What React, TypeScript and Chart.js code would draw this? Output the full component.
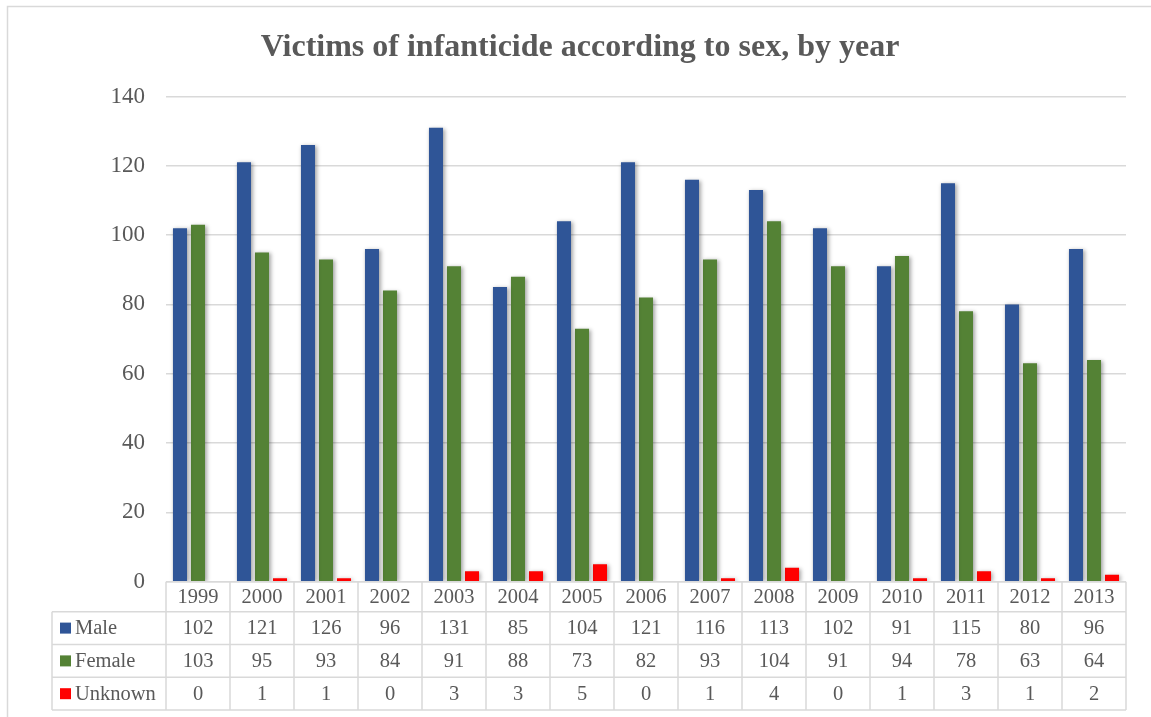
import React, { useEffect, useRef } from "react";
import { Chart, registerables } from "chart.js";

Chart.register(...registerables);

// Yearly victim counts by sex
const years = ["1999", "2000", "2001", "2002", "2003", "2004", "2005", "2006", "2007", "2008", "2009", "2010", "2011", "2012", "2013"];
const male = [102, 121, 126, 96, 131, 85, 104, 121, 116, 113, 102, 91, 115, 80, 96];
const female = [103, 95, 93, 84, 91, 88, 73, 82, 93, 104, 91, 94, 78, 63, 64];
const unknown = [0, 1, 1, 0, 3, 3, 5, 0, 1, 4, 0, 1, 3, 1, 2];
const seriesNames = ["Male", "Female", "Unknown"];
const seriesColors = ["#2F5597", "#548235", "#FF0000"];
const chartTitle = "Victims of infanticide according to sex, by year";
const yMax = 140;
const yStep = 20;

const TEXT = "#595959";
const LINE = "#d9d9d9";
const SERIF = '"Liberation Serif", "Times New Roman", serif';

// White page, light frame and the bold title
const frameAndTitle = {
  id: "frameAndTitle",
  beforeDraw(chart: any) {
    const { ctx, width, height } = chart;
    ctx.save();
    ctx.fillStyle = "#ffffff";
    ctx.fillRect(0, 0, width, height);
    ctx.strokeStyle = LINE;
    ctx.lineWidth = 1.5;
    ctx.strokeRect(7.5, 6.5, width + 40, height + 40);
    ctx.fillStyle = TEXT;
    ctx.font = `bold 32px ${SERIF}`;
    ctx.textAlign = "center";
    ctx.textBaseline = "alphabetic";
    ctx.fillText(chartTitle, 580, 56);
    ctx.restore();
  },
};

// Soft drop shadow behind the bars
const barShadow = {
  id: "barShadow",
  beforeDatasetsDraw(chart: any) {
    const ctx = chart.ctx;
    ctx.save();
    ctx.shadowColor = "rgba(0,0,0,0.35)";
    ctx.shadowBlur = 4;
    ctx.shadowOffsetX = 1.5;
    ctx.shadowOffsetY = 1;
  },
  afterDatasetsDraw(chart: any) {
    chart.ctx.restore();
  },
};

// Data table under the plot: year row, then one row per series with its legend key
const dataTable = {
  id: "dataTable",
  afterDraw(chart: any) {
    const { ctx, chartArea } = chart;
    const xScale = chart.scales.x;
    const left = chartArea.left;
    const right = chartArea.right;
    const top = chartArea.bottom;
    const yearH = 30;
    const rowH = 32.8;
    const headerLeft = 52;
    const rowsTop = top + yearH;
    const bottom = rowsTop + rowH * 3;
    const n = years.length;
    const colW = (right - left) / n;

    ctx.save();
    ctx.strokeStyle = LINE;
    ctx.lineWidth = 1.5;
    const seg = (x1: number, y1: number, x2: number, y2: number) => {
      ctx.beginPath();
      ctx.moveTo(x1, y1);
      ctx.lineTo(x2, y2);
      ctx.stroke();
    };
    seg(left, top, right, top);
    for (let r = 0; r <= 3; r++) seg(headerLeft, rowsTop + r * rowH, right, rowsTop + r * rowH);
    for (let i = 0; i <= n; i++) seg(left + i * colW, top, left + i * colW, bottom);
    seg(headerLeft, rowsTop, headerLeft, bottom);

    ctx.fillStyle = TEXT;
    ctx.font = `20.5px ${SERIF}`;
    ctx.textAlign = "center";
    ctx.textBaseline = "middle";
    years.forEach((y, i) => ctx.fillText(y, xScale.getPixelForValue(i), top + yearH / 2 + 1));

    chart.data.datasets.forEach((ds: any, r: number) => {
      const cy = rowsTop + rowH * (r + 0.5) + 1;
      ctx.fillStyle = TEXT;
      ctx.textAlign = "center";
      ds.data.forEach((v: number, i: number) => ctx.fillText(String(v), xScale.getPixelForValue(i), cy));
      ctx.fillStyle = seriesColors[r];
      ctx.fillRect(60, cy - 6.5, 11, 11);
      ctx.fillStyle = TEXT;
      ctx.textAlign = "left";
      ctx.fillText(seriesNames[r], 75, cy);
    });
    ctx.restore();
  },
};

export default function App() {
  const canvasRef = useRef<HTMLCanvasElement | null>(null);

  useEffect(() => {
    const canvas = canvasRef.current;
    if (!canvas) return;
    const chart = new Chart(canvas, {
      type: "bar",
      data: {
        labels: years,
        datasets: [male, female, unknown].map((values, i) => ({
          label: seriesNames[i],
          data: values,
          backgroundColor: seriesColors[i],
          borderWidth: 0,
          categoryPercentage: 0.844,
          barPercentage: 0.78,
        })),
      },
      options: {
        responsive: false,
        animation: false,
        devicePixelRatio: 1,
        layout: { padding: { top: 96.5, right: 25, bottom: 135.3, left: 0 } },
        plugins: {
          legend: { display: false },
          title: { display: false },
          tooltip: { enabled: false },
        },
        scales: {
          x: { display: false },
          y: {
            min: 0,
            max: yMax,
            afterFit: (scale: any) => {
              scale.width = 166;
            },
            ticks: {
              stepSize: yStep,
              padding: 21,
              color: TEXT,
              font: { family: SERIF, size: 23 },
            },
            grid: { color: LINE, lineWidth: 1.5, drawTicks: false },
            border: { display: false },
          },
        },
      },
      plugins: [frameAndTitle, barShadow, dataTable],
    });
    return () => chart.destroy();
  }, []);

  return (
    <div style={{ position: "fixed", left: 0, top: 0, width: 1151, height: 717, background: "#fff" }}>
      <canvas ref={canvasRef} width={1151} height={717} style={{ display: "block" }} />
    </div>
  );
}
